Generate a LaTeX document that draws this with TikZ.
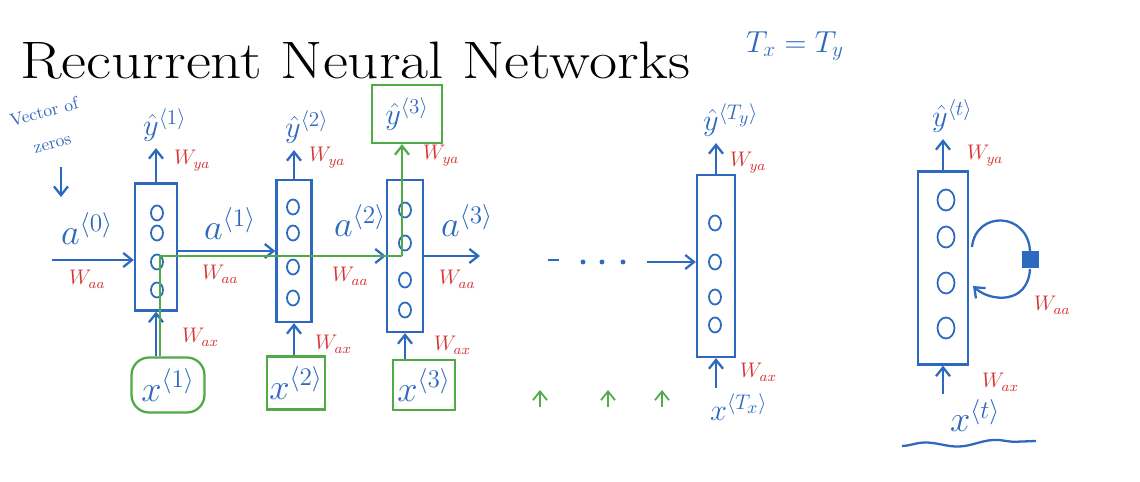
\documentclass[tikz,border=0pt]{standalone}
\usepackage{amsmath}
\usepackage{amssymb}
\usepackage{graphicx}
\usetikzlibrary{arrows}
\usetikzlibrary{arrows.meta}
\usetikzlibrary{shapes.geometric}
\usetikzlibrary{decorations.pathmorphing}
\definecolor{blue1}{RGB}{45, 105, 190}
\definecolor{red1}{RGB}{215, 50, 50}
\definecolor{green1}{RGB}{80, 170, 70}
\tikzset{
  cell/.style={draw=blue1, line width=1.3pt, inner sep=0pt},
  unit/.style={ellipse, draw=blue1, line width=1pt, minimum width=0.24cm, minimum height=0.3cm, inner sep=0pt},
  wlab/.style={text=red1, font=\large, anchor=base west, inner sep=1pt},
  alab/.style={text=blue1, font=\LARGE, anchor=base west},
  xlab/.style={text=blue1, font=\huge},
  gbox/.style={draw=green1, line width=1.3pt, inner sep=0pt},
  barrow/.style={draw=blue1, line width=1.3pt, -{Straight Barb[length=5pt,width=8pt]}},
  garrow/.style={draw=green1, line width=1.3pt, -{Straight Barb[length=5pt,width=8pt]}},
}
\begin{document}
\begin{tikzpicture}[x=0.02cm, y=-0.02cm]
  \fill[white] (0,0) rectangle (1140,482);
  \node[anchor=base west, font=\fontsize{30}{32}\selectfont, inner sep=0pt] (title) at (20,79) {\scalebox{1.16}[1]{Recurrent Neural Networks}};
  \node[text=blue1, font=\LARGE] (txty) at (795,46) {$T_x = T_y$};

  % unrolled cells
  \node[cell, minimum width=0.84cm, minimum height=2.54cm] (c1) at (156,247) {};
  \node[cell, minimum width=0.7cm, minimum height=2.84cm] (c2) at (294,251) {};
  \node[cell, minimum width=0.72cm, minimum height=3.04cm] (c3) at (405,256) {};
  \node[cell, minimum width=0.76cm, minimum height=3.64cm] (cT) at (716,266) {};
  \node[cell, minimum width=1.0cm, minimum height=3.86cm] (cR) at (943,268) {};

  \foreach \y in {213,233,262,290}
    \node[unit] at (157,\y) {};
  \foreach \y in {207,233,267,298}
    \node[unit] at (293,\y) {};
  \foreach \y in {210,243,280,310}
    \node[unit] at (405,\y) {};
  \foreach \y in {223,262,297,325}
    \node[unit] at (715,\y) {};
  \foreach \y in {200,237,283,328}
    \node[unit, minimum width=0.34cm, minimum height=0.42cm] at (946,\y) {};

  % outputs
  \node[alab] (y1) at (137,136) {$\hat{y}^{\langle 1\rangle}$};
  \node[alab] (y2) at (279,138) {$\hat{y}^{\langle 2\rangle}$};
  \node[alab, anchor=center, gbox, minimum width=1.4cm, minimum height=1.16cm] (y3) at (407,114) {$\hat{y}^{\langle 3\rangle}$};
  \node[alab] (yT) at (697,131) {$\hat{y}^{\langle T_y\rangle}$};
  \node[alab] (yR) at (926,127) {$\hat{y}^{\langle t\rangle}$};

  % inputs
  \node[xlab, draw=green1, line width=1.3pt, rounded corners=10pt, minimum width=1.46cm, minimum height=1.1cm] (x1) at (168,385) {$x^{\langle 1\rangle}$};
  \node[xlab, gbox, minimum width=1.16cm, minimum height=1.06cm] (x2) at (296,383) {$x^{\langle 2\rangle}$};
  \node[xlab, gbox, minimum width=1.24cm, minimum height=1.0cm] (x3) at (424,385) {$x^{\langle 3\rangle}$};
  \node[xlab, font=\LARGE, anchor=base west] (xT) at (704,421) {$x^{\langle T_x\rangle}$};
  \node[xlab, anchor=base west] (xR) at (944,432) {$x^{\langle t\rangle}$};

  % activations
  \node[alab, font=\huge] (a0) at (55,245) {$a^{\langle 0\rangle}$};
  \node[alab, font=\huge] (a1) at (198,240) {$a^{\langle 1\rangle}$};
  \node[alab, font=\huge] (a2) at (328,237) {$a^{\langle 2\rangle}$};
  \node[alab, font=\huge] (a3) at (435,237) {$a^{\langle 3\rangle}$};

  \node[text=blue1, rotate=15, align=center, font=\normalsize, inner sep=0pt] (zeros) at (48,127) {Vector of\\[6pt]zeros};
  \coordinate (z0) at (61,167);
  \coordinate (z1) at (61,197);
  \draw[barrow] (z0) -- (z1);

  % recurrent connections
  \coordinate (in0) at (52,260);
  \draw[barrow] (in0) -- (in0 -| c1.west);
  \draw[barrow] (c1.east |- c2.west) -- (c2.west);
  \draw[barrow] (c2.east |- c3.west) -- (c3.west);
  \coordinate (out3) at (480,256);
  \draw[barrow] (c3.east |- out3) -- (out3);
  \coordinate (dotsend) at (647,262);
  \draw[barrow] (dotsend) -- (dotsend -| cT.west);
  \draw[blue1, line width=1.3pt] (548,260) -- (559,260);
  \foreach \x in {583,602,623}
    \fill[blue1] (\x,262) circle (1.4pt);

  \node[wlab] (waa0) at (67,285) {$W_{aa}$};
  \node[wlab] (waa1) at (200,280) {$W_{aa}$};
  \node[wlab] (waa2) at (330,282) {$W_{aa}$};
  \node[wlab] (waa3) at (437,285) {$W_{aa}$};

  % vertical connections
  \foreach \c/\y in {c1/y1, c2/y2, cT/yT, cR/yR}
    \draw[barrow] (\c.north) -- (\c.north |- \y.south);
  \foreach \x/\c in {x1/c1, x2/c2, x3/c3, xT/cT, xR/cR}
    \draw[barrow] (\x.north -| \c) -- (\c.south);
  \node[wlab] (wya1) at (172,165) {$W_{ya}$};
  \node[wlab] (wya2) at (307,162) {$W_{ya}$};
  \node[wlab] (wya3) at (421,160) {$W_{ya}$};
  \node[wlab] (wyaT) at (728,167) {$W_{ya}$};
  \node[wlab] (wyaR) at (965,160) {$W_{ya}$};
  \node[wlab] (wax1) at (180,343) {$W_{ax}$};
  \node[wlab] (wax2) at (313,350) {$W_{ax}$};
  \node[wlab] (wax3) at (432,351) {$W_{ax}$};
  \node[wlab] (waxT) at (738,378) {$W_{ax}$};
  \node[wlab] (waxR) at (980,388) {$W_{ax}$};

  % green path to y<3>
  \coordinate (g1) at (160,256);
  \coordinate (g3) at (402,256);
  \draw[green1, line width=1.3pt] (x1.north -| g1) -- (g1) -- (g3);
  \draw[garrow] (g3) -- (g3 |- y3.south);
  \foreach \x in {540,608,662}
    \draw[garrow, line width=1pt] (\x,407) -- (\x,390);

  % folded loop
  \coordinate (r1) at (972,247);
  \coordinate (r2) at (973,286);
  \node[fill=blue1, minimum size=0.34cm, inner sep=0pt] (wsq) at (1030,260) {};
  \draw[blue1, line width=1.3pt] (r1) .. controls (976,210) and (1028,212) .. (wsq.north);
  \draw[barrow] (wsq.south) .. controls (1028,305) and (990,302) .. (r2);
  \node[wlab] (waaR) at (1032,311) {$W_{aa}$};
  \draw[blue1, line width=1.3pt, decorate, decoration={snake, amplitude=1.5pt, segment length=40pt}] (902,446) -- (1036,441);
\end{tikzpicture}
\end{document}
